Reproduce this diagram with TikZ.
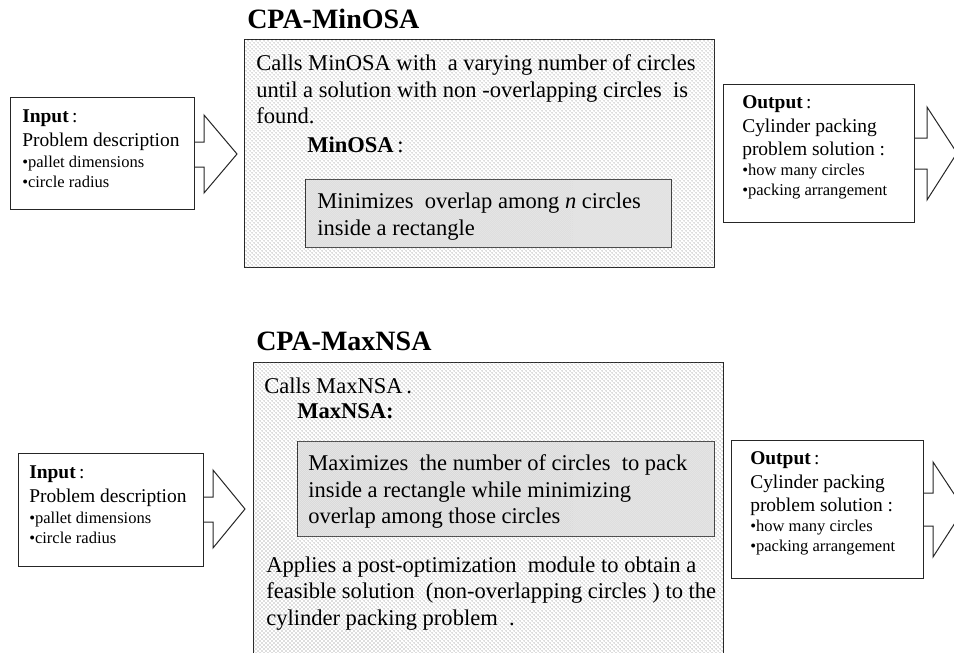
\documentclass[tikz,border=0pt]{standalone}
\usepackage{fontspec}
\setmainfont{Liberation Serif}
\usetikzlibrary{patterns}
\pgfdeclarepatternformonly{sparsedots}{\pgfqpoint{-1pt}{-1pt}}{\pgfqpoint{4pt}{4pt}}{\pgfqpoint{3pt}{3pt}}{%
  \pgfpathcircle{\pgfqpoint{0pt}{0pt}}{.38pt}\pgfusepath{fill}%
  \pgfpathcircle{\pgfqpoint{1.5pt}{1.5pt}}{.38pt}\pgfusepath{fill}}
\pgfdeclarepatternformonly{densedots}{\pgfqpoint{-1pt}{-1pt}}{\pgfqpoint{2.5pt}{2.5pt}}{\pgfqpoint{1.5pt}{1.5pt}}{%
  \pgfpathcircle{\pgfqpoint{0pt}{0pt}}{.38pt}\pgfusepath{fill}%
  \pgfpathcircle{\pgfqpoint{.75pt}{.75pt}}{.38pt}\pgfusepath{fill}}
\begin{document}
\begin{tikzpicture}[x=0.75pt,y=-0.75pt,
  boxline/.style={draw=black!85, line width=0.75pt},
  plainbox/.style={boxline, fill=white, rectangle, inner sep=0pt, anchor=north west},
  outerbox/.style={boxline, rectangle, inner sep=0pt, anchor=north west, fill=white,
     postaction={pattern=sparsedots, pattern color=black!55}},
  innerbox/.style={boxline, rectangle, inner sep=0pt, anchor=north west, fill=white,
     postaction={pattern=densedots, pattern color=black!35}},
  blockarrow/.style={boxline, fill=white, line join=miter},
  titletxt/.style={font=\fontsize{21pt}{24pt}\selectfont\bfseries, anchor=base west, inner sep=0pt},
  maintxt/.style={font=\fontsize{16.9pt}{20pt}\selectfont, anchor=base west, inner sep=0pt},
  iotxt/.style={font=\fontsize{14.6pt}{17pt}\selectfont, anchor=base west, inner sep=0pt},
  bullettxt/.style={font=\fontsize{12.4pt}{14pt}\selectfont, anchor=base west, inner sep=0pt}]
\useasboundingbox (0,0) rectangle (954,653);
\clip (0,0) rectangle (954,653);

% ================= TOP: CPA-MinOSA =================
\draw[blockarrow] (190,142) -- (204,142) -- (204,115) -- (237,154) -- (204,193) -- (204,167) -- (190,167);
\node[plainbox, minimum width=138pt, minimum height=84pt] (inA) at (10,97) {};
\node[iotxt] (inAt1) at (22,122) {\textbf{Input}\,:};
\node[iotxt] (inAt2) at (22,146) {Problem description};
\node[bullettxt] (inAt3) at (22,167) {•pallet dimensions};
\node[bullettxt] (inAt4) at (22,187) {•circle radius};

\node[titletxt] (titleA) at (247,28) {CPA-MinOSA};
\node[outerbox, minimum width=352.5pt, minimum height=171pt] (boxA) at (244,39) {};
\node[maintxt] (a1) at (256,70) {Calls MinOSA with\ \ a varying number of circles};
\node[maintxt] (a2) at (256,97) {until a solution with non -overlapping circles\ \ is};
\node[maintxt] (a3) at (256,123) {found.};
\node[maintxt] (a4) at (307,152) {\textbf{MinOSA}\,:};
\node[innerbox, minimum width=274.5pt, minimum height=51pt] (innA) at (305,179) {};
\node[maintxt] (a5) at (317,208) {Minimizes\ \ overlap among \textit{n} circles};
\node[maintxt] (a6) at (317,235) {inside a rectangle};

\draw[blockarrow] (910,138) -- (927,138) -- (927,107) -- (957,153) -- (927,200) -- (927,169) -- (910,169);
\node[plainbox, minimum width=143.25pt, minimum height=103.5pt] (outA) at (723,84) {};
\node[iotxt] (outAt1) at (742,108) {\textbf{Output}\,:};
\node[iotxt] (outAt2) at (742,132) {Cylinder packing};
\node[iotxt] (outAt3) at (742,155) {problem solution :};
\node[bullettxt] (outAt4) at (742,175) {•how many circles};
\node[bullettxt] (outAt5) at (742,195) {•packing arrangement};

% ================= BOTTOM: CPA-MaxNSA =================
\draw[blockarrow] (199,497) -- (213,497) -- (213,470) -- (245,509) -- (213,548) -- (213,522) -- (199,522);
\node[plainbox, minimum width=138.75pt, minimum height=84.75pt] (inB) at (18,453) {};
\node[iotxt] (inBt1) at (29,478) {\textbf{Input}\,:};
\node[iotxt] (inBt2) at (29,502) {Problem description};
\node[bullettxt] (inBt3) at (29,523) {•pallet dimensions};
\node[bullettxt] (inBt4) at (29,543) {•circle radius};

\node[titletxt] (titleB) at (256,350) {CPA-MaxNSA};
\node[outerbox, minimum width=352.5pt, minimum height=225pt] (boxB) at (253,362) {};
\node[maintxt] (b1) at (264,393) {Calls MaxNSA\,.};
\node[maintxt] (b2) at (297,418) {\textbf{MaxNSA:}};
\node[innerbox, minimum width=312.75pt, minimum height=71.25pt] (innB) at (297,441) {};
\node[maintxt] (b3) at (308,470) {Maximizes\ \ the number of circles\ \ to pack};
\node[maintxt] (b4) at (308,497) {inside a rectangle while minimizing};
\node[maintxt] (b5) at (308,523) {overlap among those circles};
\node[maintxt] (b6) at (266,572) {Applies a post-optimization\ \ module to\ obtain a};
\node[maintxt] (b7) at (266,598) {feasible solution\ \ (non-overlapping circles ) to the};
\node[maintxt] (b8) at (266,625) {cylinder packing problem\ \ .};

\draw[blockarrow] (919,493) -- (933,493) -- (933,462) -- (964,509) -- (933,557) -- (933,526) -- (919,526);
\node[plainbox, minimum width=144pt, minimum height=103.5pt] (outB) at (731,440) {};
\node[iotxt] (outBt1) at (750,464) {\textbf{Output}\,:};
\node[iotxt] (outBt2) at (750,488) {Cylinder packing};
\node[iotxt] (outBt3) at (750,511) {problem solution :};
\node[bullettxt] (outBt4) at (750,531) {•how many circles};
\node[bullettxt] (outBt5) at (750,551) {•packing arrangement};
\end{tikzpicture}
\end{document}
